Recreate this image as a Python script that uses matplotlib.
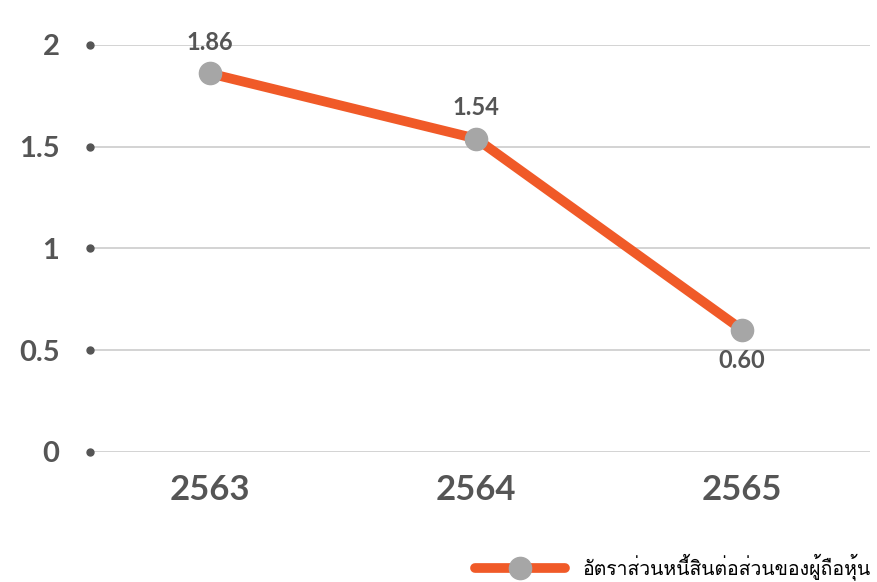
import matplotlib
matplotlib.use("Agg")
import matplotlib.pyplot as plt
from matplotlib import font_manager
from matplotlib.ft2font import FT2Font

# data
years = ["2563", "2564", "2565"]
ratio = [1.86, 1.54, 0.60]
labels = ["1.86", "1.54", "0.60"]
y_ticks = [0, 0.5, 1, 1.5, 2]
y_tick_labels = ["0", "0.5", "1", "1.5", "2"]
series_name = "อัตราส่วนหนี้สินต่อส่วนของผู้ถือหุ้น"

# look for any installed font that has Thai glyphs
thai_font = None
for f in font_manager.fontManager.ttflist:
    try:
        if 0x0E2D in FT2Font(f.fname).get_charmap():
            thai_font = f.name
            break
    except Exception:
        pass

num_font = "Lato"
grey_txt = "#555555"
orange = "#F05A28"
marker_grey = "#A6A6A6"

fig = plt.figure(figsize=(8.77, 5.82), dpi=100)
ax = fig.add_axes([0.1026, 0.2234, 0.8894, 0.6993])

x = list(range(len(years)))
ax.plot(x, ratio, color=orange, lw=7, marker="o", ms=16,
        mfc=marker_grey, mec=marker_grey, clip_on=False, zorder=3,
        solid_capstyle="round", label=series_name)

for i, (v, t) in enumerate(zip(ratio, labels)):
    if i == len(ratio) - 1:
        ax.annotate(t, (i, v), xytext=(0, -14), textcoords="offset points",
                    ha="center", va="top", fontsize=17, color=grey_txt,
                    family=num_font, fontweight="bold")
    else:
        ax.annotate(t, (i, v), xytext=(0, 14), textcoords="offset points",
                    ha="center", va="bottom", fontsize=17, color=grey_txt,
                    family=num_font, fontweight="bold")

xmin, xmax = -0.451, 2.48
ax.set_xlim(xmin, xmax)
ax.set_ylim(0, 2)

for y in y_ticks:
    ax.axhline(y, color="#CCCCCC", lw=1.2, zorder=1)
ax.plot([xmin] * len(y_ticks), y_ticks, "o", color="#555555", ms=5,
        clip_on=False, zorder=2)

ax.set_yticks(y_ticks)
ax.set_yticklabels(y_tick_labels, fontsize=21, color=grey_txt,
                   family=num_font, fontweight="bold")
ax.set_xticks(x)
ax.set_xticklabels(years, fontsize=25, color=grey_txt,
                   family=num_font, fontweight="bold")
ax.tick_params(axis="y", length=0, pad=22)
ax.tick_params(axis="x", length=0, pad=16)
for s in ax.spines.values():
    s.set_visible(False)

leg_family = [thai_font, "DejaVu Sans"] if thai_font else ["DejaVu Sans"]
fig.legend(loc="center right", bbox_to_anchor=(0.997, 0.026), frameon=False,
           handlelength=4.6, handletextpad=0.9, borderaxespad=0,
           borderpad=0.2, prop={"family": leg_family, "size": 14})

fig.savefig("out.png", dpi=100)
